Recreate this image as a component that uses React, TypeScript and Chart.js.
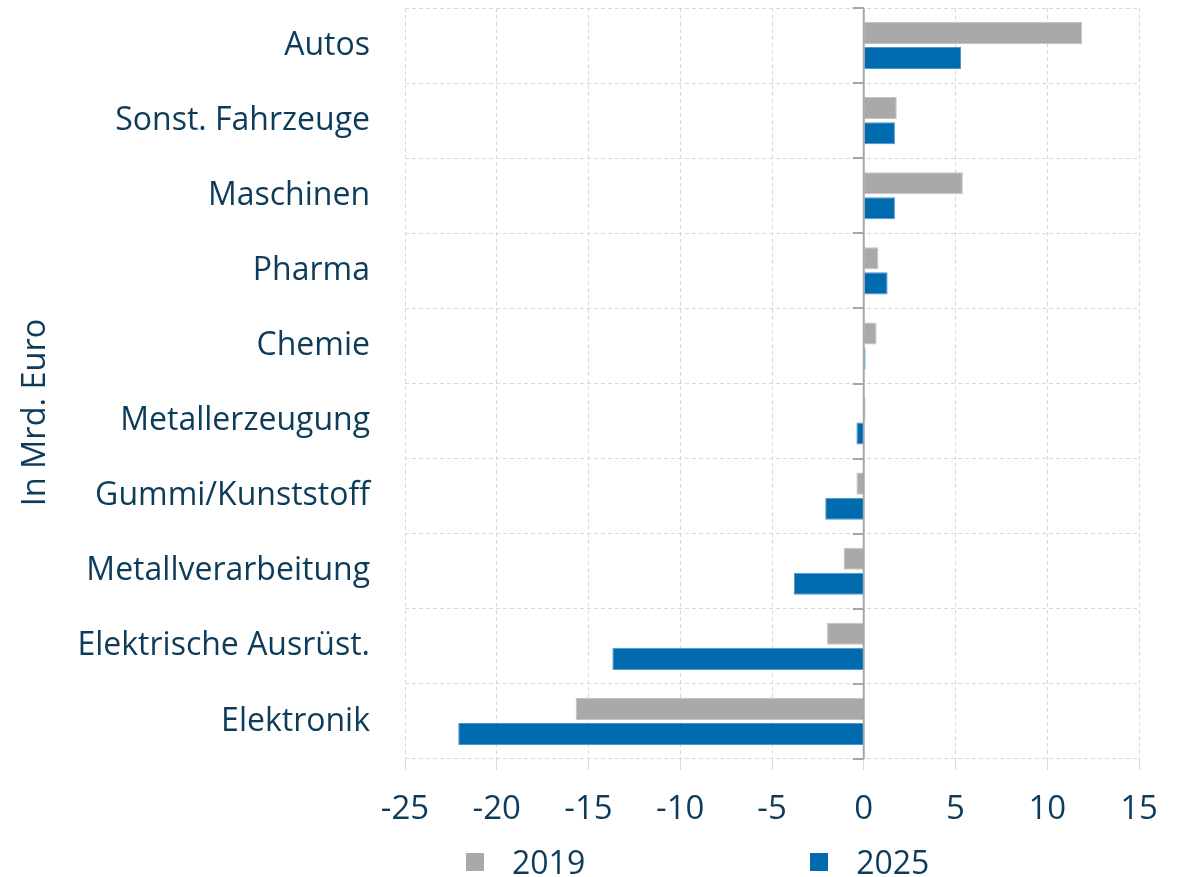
import React, { useEffect, useRef } from "react";
import { Chart, registerables } from "chart.js";

Chart.register(...registerables);

const categories = [
  "Autos",
  "Sonst. Fahrzeuge",
  "Maschinen",
  "Pharma",
  "Chemie",
  "Metallerzeugung",
  "Gummi/Kunststoff",
  "Metallverarbeitung",
  "Elektrische Ausrüst.",
  "Elektronik",
];

const values2019 = [11.9, 1.8, 5.4, 0.8, 0.7, 0.1, -0.4, -1.1, -2.0, -15.7];
const values2025 = [5.3, 1.7, 1.7, 1.3, 0.1, -0.4, -2.1, -3.8, -13.7, -22.1];

const seriesLabels = ["2019", "2025"];
const xMin = -25;
const xMax = 15;
const xStep = 5;
const axisTitle = "In Mrd. Euro";

const TEXT = "#0d3c5a";
const GRAY = "#a9a9a9";
const BLUE = "#006aaf";
const FONT = "'Open Sans', 'Noto Sans', sans-serif";

const zeroAxisPlugin = {
  id: "zeroAxis",
  afterDatasetsDraw(chart: any) {
    const { ctx, chartArea, scales } = chart;
    const x = scales.x.getPixelForValue(0);
    const yScale = scales.y;
    ctx.save();
    ctx.strokeStyle = "#a6a6a6";
    ctx.lineWidth = 2;
    ctx.beginPath();
    ctx.moveTo(x, chartArea.top);
    ctx.lineTo(x, chartArea.bottom);
    for (let i = 0; i <= categories.length; i++) {
      const y = Math.round(yScale.getPixelForValue(i - 0.5));
      ctx.moveTo(x - 11, y);
      ctx.lineTo(x, y);
    }
    ctx.stroke();
    ctx.restore();
  },
};

const axisTitlePlugin = {
  id: "axisTitle",
  afterDraw(chart: any) {
    const { ctx, chartArea } = chart;
    ctx.save();
    ctx.translate(36, (chartArea.top + chartArea.bottom) / 2 + 29);
    ctx.rotate(-Math.PI / 2);
    ctx.fillStyle = TEXT;
    ctx.font = `32.5px ${FONT}`;
    ctx.textAlign = "center";
    ctx.textBaseline = "middle";
    ctx.fillText(axisTitle, 0, 0);
    ctx.restore();
  },
};

export default function App() {
  const canvasRef = useRef<HTMLCanvasElement | null>(null);

  useEffect(() => {
    if (!canvasRef.current) return;
    const chart = new Chart(canvasRef.current, {
      type: "bar",
      data: {
        labels: categories,
        datasets: [
          {
            label: seriesLabels[0],
            data: values2019,
            backgroundColor: GRAY,
            borderColor: "#c4c4c4",
            borderWidth: 1,
            barPercentage: 0.88,
            categoryPercentage: 0.667,
          },
          {
            label: seriesLabels[1],
            data: values2025,
            backgroundColor: BLUE,
            borderColor: "#4f94cc",
            borderWidth: 1,
            barPercentage: 0.88,
            categoryPercentage: 0.667,
          },
        ],
      },
      options: {
        indexAxis: "y",
        responsive: false,
        animation: false,
        layout: { padding: { left: 0, top: 8, right: 44, bottom: 0 } },
        plugins: {
          legend: { display: false },
          tooltip: { enabled: false },
        },
        scales: {
          x: {
            type: "linear",
            min: xMin,
            max: xMax,
            ticks: {
              stepSize: xStep,
              color: TEXT,
              font: { family: FONT, size: 33 },
              padding: 20,
            },
            grid: {
              color: "#d9d9d9",
              lineWidth: 1,
              tickLength: 11,
            },
            border: { display: false, dash: [4, 3] },
            afterFit(scale: any) {
              scale.height = 118;
              scale.paddingLeft = 0;
              scale.paddingRight = 0;
            },
          },
          y: {
            type: "category",
            ticks: {
              color: TEXT,
              font: { family: FONT, size: 32 },
              padding: 35,
            },
            grid: {
              color: "#d9d9d9",
              lineWidth: 1,
              drawTicks: false,
              offset: true,
            },
            border: { display: false, dash: [4, 3] },
            afterFit(scale: any) {
              scale.width = 405;
              scale.paddingTop = 0;
              scale.paddingBottom = 0;
            },
          },
        },
      },
      plugins: [zeroAxisPlugin, axisTitlePlugin],
    } as any);
    return () => chart.destroy();
  }, []);

  const legendItem = (label: string, color: string) => (
    <div style={{ display: "flex", alignItems: "center" }}>
      <span style={{ width: 18, height: 18, background: color, display: "inline-block", marginRight: 28 }} />
      <span style={{ fontFamily: FONT, fontSize: 32, color: TEXT, lineHeight: "32px" }}>{label}</span>
    </div>
  );

  return (
    <div style={{ position: "absolute", left: 0, top: 0, width: 1183, height: 877, background: "#fff", overflow: "hidden" }}>
      <canvas ref={canvasRef} width={1183} height={877} />
      <div style={{ position: "absolute", left: 466, top: 846, display: "flex", gap: 225 }}>
        {legendItem(seriesLabels[0], GRAY)}
        {legendItem(seriesLabels[1], BLUE)}
      </div>
    </div>
  );
}
